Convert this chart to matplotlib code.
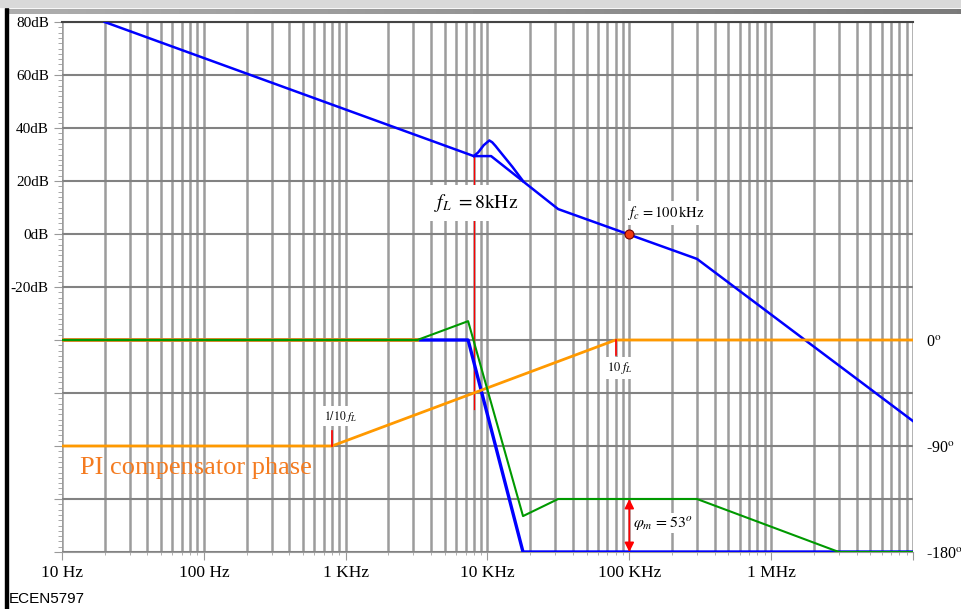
import numpy as np
import matplotlib.pyplot as plt
from matplotlib.patches import Rectangle
from matplotlib.ticker import MultipleLocator, LogLocator, NullFormatter

plt.rcParams['mathtext.fontset'] = 'stix'
plt.rcParams['font.family'] = 'Liberation Serif'

# loop gain magnitude (asymptotes), Hz / dB
mag_f = [20, 8e3, 10.6e3, 31.5e3, 300e3, 10e6]
mag_db = [80, 29.4, 29.4, 9.4, -9.4, -70.6]
# resonant peak of the actual curve
peak_f = [8e3, 8.6e3, 9.4e3, 10.3e3, 10.8e3, 11.4e3, 12e3, 15e3, 17.8e3]
peak_db = [29.4, 30.8, 33.5, 35.3, 34.6, 33.2, 31.7, 25.3, 20.0]

# phases, Hz / degrees
plant_ph_f = [10, 7.3e3, 17.8e3, 10e6]
plant_ph = [0, 0, -180, -180]
loop_ph_f = [10, 3.2e3, 7.3e3, 17.8e3, 31.5e3, 300e3, 3e6, 10e6]
loop_ph = [0, 0, 16, -149.5, -135, -135, -180, -180]
flat_ph_f = [10, 3.2e3]
flat_ph = [0, 0]
pi_ph_f = [10, 800, 80e3, 10e6]
pi_ph = [-90, -90, 0, 0]

fL = 8e3
fc = 100e3

xtick_f = [10, 100, 1e3, 1e4, 1e5, 1e6, 1e7]
xtick_lbl = ['10 Hz', '100 Hz', '1 KHz', '10 KHz', '100 KHz', '1 MHz', '']
ytick_db = list(range(-120, 81, 20))
ytick_lbl = ['', '', '', '', '', '-20dB', '0dB', '20dB', '40dB', '60dB', '80dB']

W, H = 961, 609
fig = plt.figure(figsize=(W / 100, H / 100), dpi=100)

# slide decorations
fig.add_artist(Rectangle((0, 1 - 7 / H), 1, 7 / H, transform=fig.transFigure,
                         color='#d9d9d9', zorder=5))
gax = fig.add_axes([8 / W, 1 - 14 / H, 1 - 8 / W, 5 / H])
gax.imshow(np.linspace(0.68, 0.48, 256)[None, :], cmap='gray', vmin=0, vmax=1,
           aspect='auto')
gax.axis('off')
fig.add_artist(Rectangle((5 / W, 0), 2.5 / W, 1 - 8 / H, transform=fig.transFigure,
                         color='black'))
fig.text(9 / W, 1 - 599 / H, 'ECEN5797', family='Liberation Sans', fontsize=11,
         va='center', ha='left')

ax = fig.add_axes([62 / W, 57 / H, 851 / W, 530 / H])
ax.set_xscale('log')
ax.set_xlim(10, 1e7)
ax.set_ylim(-120, 80)
ax.set_xticks(xtick_f)
ax.set_xticklabels(xtick_lbl, fontsize=12.5)
ax.xaxis.set_minor_locator(LogLocator(base=10, subs=np.arange(2, 10)))
ax.xaxis.set_minor_formatter(NullFormatter())
ax.set_yticks(ytick_db)
ax.set_yticklabels(ytick_lbl, fontsize=11)
ax.yaxis.set_minor_locator(MultipleLocator(2))

ax.grid(True, which='both', axis='x', color='#9c9c9c', lw=1.8)
ax.grid(True, which='major', axis='y', color='#828282', lw=1.5)
ax.tick_params(axis='y', which='both', left=True, right=True, direction='out',
               color='#999999')
ax.tick_params(axis='y', which='major', length=5.5, pad=4)
ax.tick_params(axis='y', which='minor', length=3)
ax.tick_params(axis='x', which='major', length=5.5, pad=4, color='#999999')
ax.tick_params(axis='x', which='minor', length=2.5, color='#a4a4a4')
for s in ['left', 'right']:
    ax.spines[s].set_visible(False)
ax.spines['top'].set_color('#444444')
ax.spines['top'].set_linewidth(1.5)
ax.spines['bottom'].set_color('#999999')

ax.plot(mag_f, mag_db, color='#0000ff', lw=1.8, zorder=4)
ax.plot(peak_f, peak_db, color='#0000ff', lw=1.8, zorder=4)

ax2 = ax.twinx()
ax2.set_ylim(-180, 270)
ax2.set_yticks([0, -90, -180])
ax2.set_yticklabels(['0$^\\mathrm{o}$', '-90$^\\mathrm{o}$', '-180$^\\mathrm{o}$'],
                    fontsize=11.5)
ax2.tick_params(axis='y', length=0, pad=9)
for s in ax2.spines.values():
    s.set_visible(False)

ax2.plot(plant_ph_f, plant_ph, color='#0000ff', lw=2.4, zorder=3)
ax2.plot(flat_ph_f, flat_ph, color='#ff9900', lw=2.6, zorder=3)
ax2.plot(pi_ph_f, pi_ph, color='#ff9900', lw=2, zorder=3)
ax2.plot(loop_ph_f, loop_ph, color='#009900', lw=1.5, zorder=4)

# markers and annotations
ax.plot([fL, fL], [peak_db[0], -66], color='red', lw=0.9, zorder=2)
ax2.plot([fL / 10, fL / 10], [-90, -77], color='red', lw=1.2, zorder=4)
ax2.plot([fL * 10, fL * 10], [0, -13], color='red', lw=1.2, zorder=4)
ax.plot([fc], [0], 'o', ms=6.5, mfc='#f03a10', mec='#700000', mew=0.8, zorder=6)

wbox = dict(facecolor='white', edgecolor='none', pad=2)
fig.text(476 / W, 1 - 203 / H, r'$f_L\ = 8\mathrm{kHz}$', fontsize=14,
         ha='center', va='center', bbox=dict(facecolor='white', edgecolor='none', pad=5))
fig.text(666 / W, 1 - 213 / H, r'$f_c\, = 100\,\mathrm{kHz}$', fontsize=10.5,
         ha='center', va='center', bbox=wbox)
fig.text(663 / W, 1 - 523 / H, r'$\varphi_m\, = 53^o$', fontsize=11.5,
         ha='center', va='center', bbox=dict(facecolor='white', edgecolor='none', pad=1))
fig.text(341 / W, 1 - 416 / H, r'$1/10\ f_L$', fontsize=8.5,
         ha='center', va='center', bbox=wbox)
fig.text(620 / W, 1 - 368 / H, r'$10\ f_L$', fontsize=9,
         ha='center', va='center', bbox=wbox)
fig.text(80 / W, 1 - 468 / H, 'PI compensator phase', fontsize=19,
         color='#f47b20', ha='left', va='center')

# phase margin arrow drawn last so the label box does not hide it
ax2.annotate('', xy=(fc, -180), xytext=(fc, -135),
             arrowprops=dict(arrowstyle='<|-|>', color='red', lw=1.2,
                             mutation_scale=14, shrinkA=0, shrinkB=0),
             zorder=10, annotation_clip=False)
fig.savefig('out.png', dpi=100)
